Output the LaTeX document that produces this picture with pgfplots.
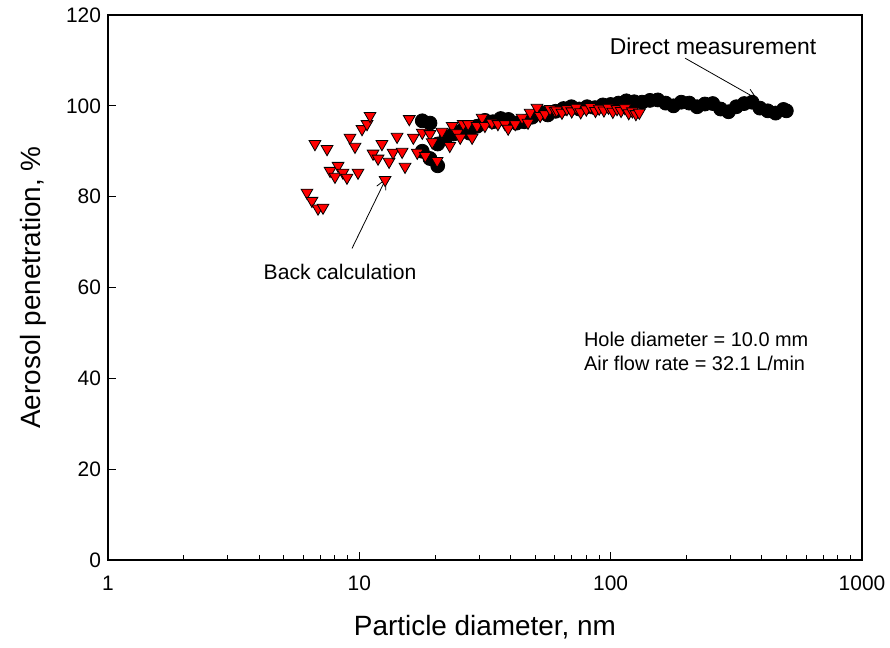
\documentclass[border=0pt]{standalone}
\usepackage{fontspec}
\setmainfont{Liberation Sans}
\usepackage{pgfplots}
\pgfplotsset{compat=1.18}
\usetikzlibrary{arrows.meta}

\begin{document}
\begin{tikzpicture}
\begin{axis}[
  scale only axis, width=377bp, height=272.5bp,
  xmode=log, xmin=1, xmax=1000, ymin=0, ymax=120,
  xtick={1,10,100,1000}, xticklabels={1,10,100,1000},
  ytick={0,20,40,60,80,100,120},
  tick align=inside, xtick pos=bottom, ytick pos=left,
  major tick length=4bp, minor tick length=2.5bp,
  tick style={black, line width=0.5pt},
  axis line style={line width=0.6pt},
  ticklabel style={font=\fontsize{10.5}{12}\selectfont},
  xticklabel style={yshift=-4.5bp},
  /pgf/number format/assume math mode=true,
  xlabel={Particle diameter, nm},
  ylabel={Aerosol penetration, \%},
  label style={font=\fontsize{14}{16}\selectfont},
  x label style={at={(axis description cs:0.5,-0.1229)}, anchor=center},
  y label style={at={(axis description cs:-0.0995,0.5)}, anchor=center},
  clip=false,
]
% Direct measurement (black circles)
\addplot[only marks, mark=*, mark size=3.5pt, mark options={fill=black, draw=black}] coordinates {
(17.8,96.7) (17.8,90.0) (19.1,96.2) (19.1,88.4) (20.5,86.8) (20.5,91.6)
(22.1,93.0) (23.7,93.8) (25.5,94.5) (27.4,94.0) (29.4,95.5) (31.6,96.8)
(34.0,96.5) (36.5,97.2) (39.2,97.0) (42.2,96.2) (45.3,96.5) (48.7,97.5)
(52.3,98.6) (56.2,98.0) (60.4,98.8) (64.9,99.4) (69.8,99.8) (75.0,99.3)
(80.6,99.8) (86.6,99.6) (93.1,100.2) (100,100.3) (107.5,100.6) (115.5,101.1)
(124.1,100.9) (133.4,100.8) (143.3,101.2) (154,101.3) (165.5,100.6) (177.8,100.0)
(191,100.8) (205.4,100.6) (220.7,99.8) (237.1,100.4) (254.8,100.5) (273.8,99.3)
(294.2,98.7) (316.2,99.8) (339.8,100.5) (365.2,100.8) (392.4,99.5) (421.7,98.9)
(453.2,98.4) (487,99.2) (500,98.9)
};
% Back calculation (red down triangles)
\addplot[only marks, mark=triangle*, mark size=3.4pt, mark options={rotate=180, fill=red, draw=black, line width=0.4pt}] coordinates {
(6.19,80.9) (6.48,79.1) (6.66,91.6) (6.85,77.4) (7.17,77.6) (7.44,90.5)
(7.65,85.7) (8.0,84.4) (8.23,86.8) (8.61,85.3) (8.93,84.2) (9.18,93.0)
(9.61,91.0) (9.88,85.3) (10.25,94.9) (10.73,96.0) (11.03,97.8) (11.34,89.5)
(11.87,88.4) (12.3,91.6) (12.66,83.7) (13.13,87.7) (13.62,89.7) (14.13,93.2)
(14.8,89.9) (15.2,86.6) (15.8,97.1) (16.4,93.0) (17.0,89.7) (17.8,94.1)
(18.3,89.0) (19.1,93.8) (19.5,92.0) (20.4,87.9) (21.3,94.3) (22.9,91.2)
(23.4,95.6) (24.5,94.0) (25.2,93.0) (25.9,96.0) (27.1,96.0) (28.1,93.0)
(29.4,95.6) (30.8,97.4) (31.6,95.6) (33.7,96.3) (35.6,96.0) (38.0,96.0)
(39.1,95.0) (41.7,96.0) (44.4,97.4) (46.9,96.3) (47.8,98.5) (50.9,99.6)
(52.4,97.8) (54.8,98.2) (57.4,99.3) (60.1,98.9) (61,99.0) (64,98.5)
(67,99.3) (70,98.8) (73,99.6) (76,98.6) (80,99.2) (83,99.8)
(87,98.9) (90,99.4) (94,99.0) (98,99.6) (102,98.7) (106,99.3)
(110,98.9) (114,99.5) (118,98.4) (122,98.8) (126,98.2) (130,98.5)
};
\node[font=\fontsize{11.5}{13}\selectfont] at (axis cs:255.5,113.2) {Direct measurement};
\draw[-{Straight Barb[length=5bp,width=5bp]}, line width=0.4pt] (axis cs:197.7,110.5) -- (axis cs:382.6,101.5);
\node[font=\fontsize{10.6}{12}\selectfont] at (axis cs:8.38,63.5) {Back calculation};
\draw[-{Straight Barb[length=5bp,width=5bp]}, line width=0.4pt] (axis cs:9.35,68.6) -- (axis cs:12.77,84.0);
\node[font=\fontsize{10}{12}\selectfont, anchor=west] at (axis cs:73.5,48.6) {Hole diameter = 10.0 mm};
\node[font=\fontsize{10}{12}\selectfont, anchor=west] at (axis cs:73.5,43.3) {Air flow rate = 32.1 L/min};
\end{axis}
\pgfresetboundingbox
\path ([shift={(-54bp,-43.5bp)}]current axis.south west) rectangle ([shift={(14bp,7.5bp)}]current axis.north east);
\end{tikzpicture}
\end{document}
